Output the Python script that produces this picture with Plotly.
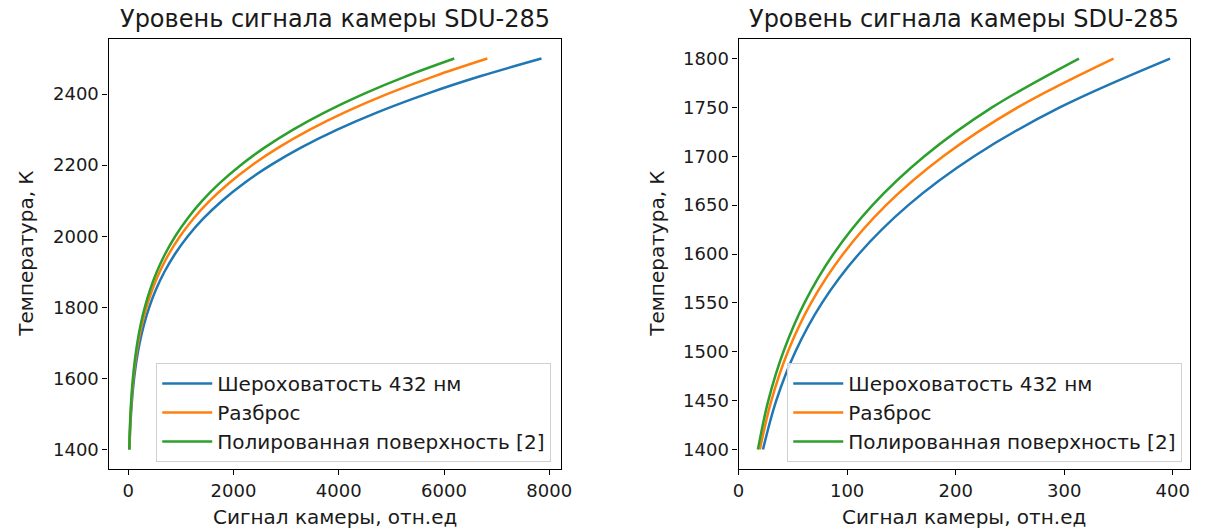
import plotly.graph_objects as go

# Temperature, K
temperature = [1400, 1450, 1500, 1550, 1600, 1650, 1700, 1750, 1800, 1850, 1900, 1950,
               2000, 2050, 2100, 2150, 2200, 2250, 2300, 2350, 2400, 2450, 2500]

# Camera signal, rel. units
rough_432 = [22.5, 34.7, 52.3, 76.9, 110.8, 156.4, 217.0, 295.9, 397.5, 526.3, 687.6, 887.2,
             1131.6, 1427.9, 1783.5, 2206.7, 2706.2, 3291.1, 3971.2, 4756.6, 5657.7, 6685.4, 7852.0]
spread = [19.6, 30.2, 45.4, 66.8, 96.3, 135.9, 188.6, 257.1, 345.4, 457.4, 597.5, 771.0,
          983.4, 1240.8, 1549.9, 1917.6, 2351.7, 2860.0, 3451.0, 4133.5, 4916.5, 5809.6, 6823.4]
polished = [17.8, 27.4, 41.3, 60.7, 87.4, 123.4, 171.2, 233.5, 313.6, 415.2, 542.5, 700.0,
            892.8, 1126.6, 1407.2, 1741.1, 2135.2, 2596.7, 3133.3, 3753.0, 4463.9, 5274.8, 6195.2]

names = ["Шероховатость 432 нм", "Разброс", "Полированная поверхность [2]"]
colors = ["#1f77b4", "#ff7f0e", "#2ca02c"]
series = [rough_432, spread, polished]

title_text = "Уровень сигнала камеры SDU-285"
xlabel = "Сигнал камеры, отн.ед"
ylabel = "Температура, К"

W, H = 1211, 531
FONT = "DejaVu Sans"
TXT = "#1a1a1a"
fig = go.Figure()

zoom_n = sum(1 for t in temperature if t <= 1800)

for name, col, s in zip(names, colors, series):
    fig.add_trace(go.Scatter(x=s, y=temperature, mode="lines", name=name,
                             line=dict(color=col, width=2.5, shape="spline"),
                             xaxis="x", yaxis="y", legend="legend"))
for name, col, s in zip(names, colors, series):
    fig.add_trace(go.Scatter(x=s[:zoom_n], y=temperature[:zoom_n], mode="lines", name=name,
                             line=dict(color=col, width=2.5, shape="spline"),
                             xaxis="x2", yaxis="y2", legend="legend2"))

def px_x(p):
    return p / W

def px_y(p):
    return (H - p) / H

ax_common = dict(showline=True, linecolor="black", linewidth=1.2, mirror=True,
                 ticks="outside", ticklen=5, tickwidth=1.2, tickcolor="black",
                 showgrid=False, zeroline=False,
                 tickfont=dict(family=FONT, size=18, color=TXT))

leg_common = dict(xanchor="right", yanchor="bottom", itemwidth=50,
                  bgcolor="rgba(255,255,255,0.8)", bordercolor="#d0d0d0", borderwidth=1,
                  font=dict(family=FONT, size=20, color=TXT))

fig.update_layout(
    width=W, height=H,
    margin=dict(l=0, r=0, t=0, b=0),
    paper_bgcolor="white", plot_bgcolor="white",
    font=dict(family=FONT, color=TXT),
    xaxis=dict(domain=[px_x(104), px_x(563)], range=[-375, 8225],
               tickvals=[0, 2000, 4000, 6000, 8000], anchor="y", **ax_common),
    yaxis=dict(domain=[px_y(469), px_y(39)], range=[1345, 2555],
               tickvals=[1400, 1600, 1800, 2000, 2200, 2400], anchor="x", **ax_common),
    xaxis2=dict(domain=[px_x(743), px_x(1201)], range=[0, 416],
                tickvals=[0, 100, 200, 300, 400], anchor="y2", **ax_common),
    yaxis2=dict(domain=[px_y(469), px_y(39)], range=[1380, 1820],
                tickvals=[1400, 1450, 1500, 1550, 1600, 1650, 1700, 1750, 1800],
                anchor="x2", **ax_common),
    legend=dict(x=px_x(553), y=px_y(462), **leg_common),
    legend2=dict(x=px_x(1193), y=px_y(462), **leg_common),
    showlegend=True,
)

annotations = []
for cx in [(104 + 563) / 2, (743 + 1201) / 2]:
    annotations.append(dict(text=title_text, x=px_x(cx), y=px_y(19), xref="paper", yref="paper",
                            showarrow=False, xanchor="center", yanchor="middle",
                            font=dict(family=FONT, size=24, color=TXT)))
    annotations.append(dict(text=xlabel, x=px_x(cx), y=px_y(517), xref="paper", yref="paper",
                            showarrow=False, xanchor="center", yanchor="middle",
                            font=dict(family=FONT, size=20, color=TXT)))
for yx in [20, 660]:
    annotations.append(dict(text=ylabel, x=px_x(yx), y=px_y(254), xref="paper", yref="paper",
                            showarrow=False, xanchor="center", yanchor="middle", textangle=-90,
                            font=dict(family=FONT, size=20, color=TXT)))
fig.update_layout(annotations=annotations)

fig.write_html("out.html")
